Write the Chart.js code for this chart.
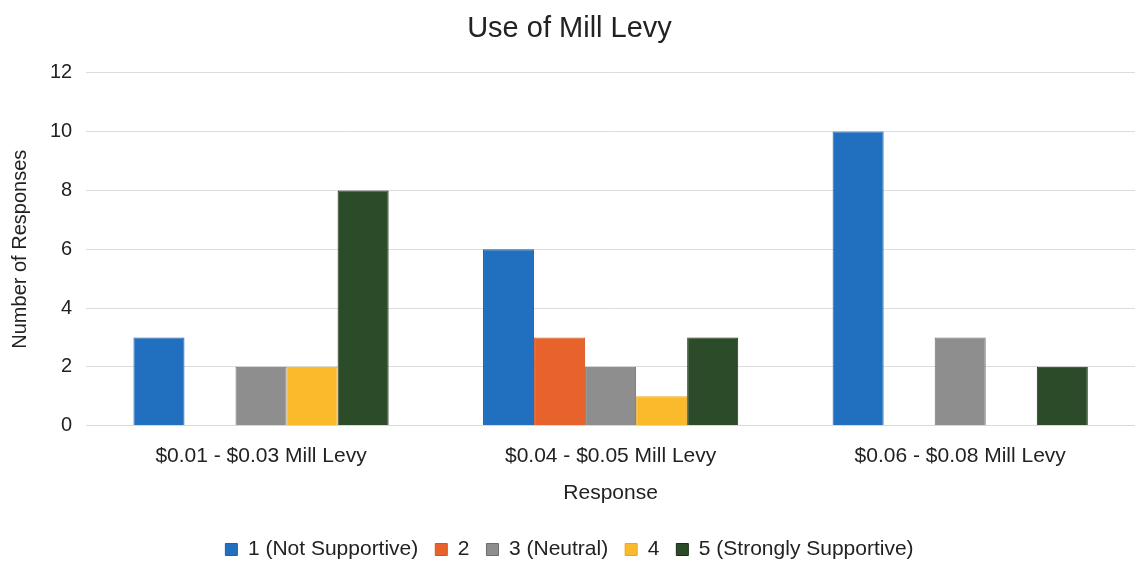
<!DOCTYPE html>
<html>
<head>
<meta charset="utf-8">
<script src="https://cdn.jsdelivr.net/npm/chart.js@4"></script>
<style>
  html, body { margin: 0; padding: 0; background: #fff; }
  #wrap { width: 1135px; height: 570px; }
</style>
</head>
<body>
<div id="wrap"><canvas id="chart"></canvas></div>
<script>
const categories = ['$0.01 - $0.03 Mill Levy', '$0.04 - $0.05 Mill Levy', '$0.06 - $0.08 Mill Levy'];
const seriesNames = ['1 (Not Supportive)', '2', '3 (Neutral)', '4', '5 (Strongly Supportive)'];
const notSupportive = [3, 6, 10];
const two = [0, 3, 0];
const neutral = [2, 2, 3];
const four = [2, 1, 0];
const stronglySupportive = [8, 3, 2];
const yTicks = [0, 2, 4, 6, 8, 10, 12];

const COLORS = ['#2170BF', '#E8622B', '#8E8E8E', '#FBBA2C', '#2C4B29'];
const BORDERS = ['#1D63A8', '#D4561F', '#6E6E6E', '#E9A820', '#1A2E18'];
const values = [notSupportive, two, neutral, four, stronglySupportive];

const FONT = "'Liberation Sans', Arial, sans-serif";

new Chart(document.getElementById('chart'), {
    type: 'bar',
    data: {
        labels: categories,
        datasets: seriesNames.map((name, i) => ({
            label: name,
            data: values[i],
            backgroundColor: COLORS[i],
            borderColor: BORDERS[i],
            borderWidth: 1,
            categoryPercentage: 0.73,
            barPercentage: 1.0
        }))
    },
    options: {
        responsive: true,
        maintainAspectRatio: false,
        animation: false,
        layout: { padding: { left: 4, right: 0, top: 8, bottom: 0 } },
        plugins: {
            title: {
                display: true,
                text: 'Use of Mill Levy',
                color: '#222',
                font: { size: 29, family: FONT, weight: 'normal' },
                padding: { top: 4, bottom: 26 }
            },
            legend: {
                position: 'bottom',
                labels: {
                    boxWidth: 12,
                    boxHeight: 12,
                    padding: 17,
                    color: '#222',
                    font: { size: 21, family: FONT }
                }
            },
            tooltip: { enabled: false }
        },
        scales: {
            x: {
                grid: { display: false },
                border: { color: '#d9d9d9' },
                ticks: { color: '#222', font: { size: 21, family: FONT }, padding: 10 },
                title: {
                    display: true,
                    text: 'Response',
                    color: '#222',
                    font: { size: 21, family: FONT },
                    padding: { top: 2, bottom: 16 }
                }
            },
            y: {
                min: 0,
                max: 12,
                afterBuildTicks: (axis) => { axis.ticks = yTicks.map(v => ({ value: v })); },
                grid: { color: '#dcdcdc', drawTicks: false },
                border: { display: false },
                ticks: { color: '#222', font: { size: 20, family: FONT }, padding: 14 },
                title: {
                    display: true,
                    text: 'Number of Responses',
                    color: '#222',
                    font: { size: 20, family: FONT },
                    padding: { bottom: 4 }
                }
            }
        }
    }
});
</script>
</body>
</html>
